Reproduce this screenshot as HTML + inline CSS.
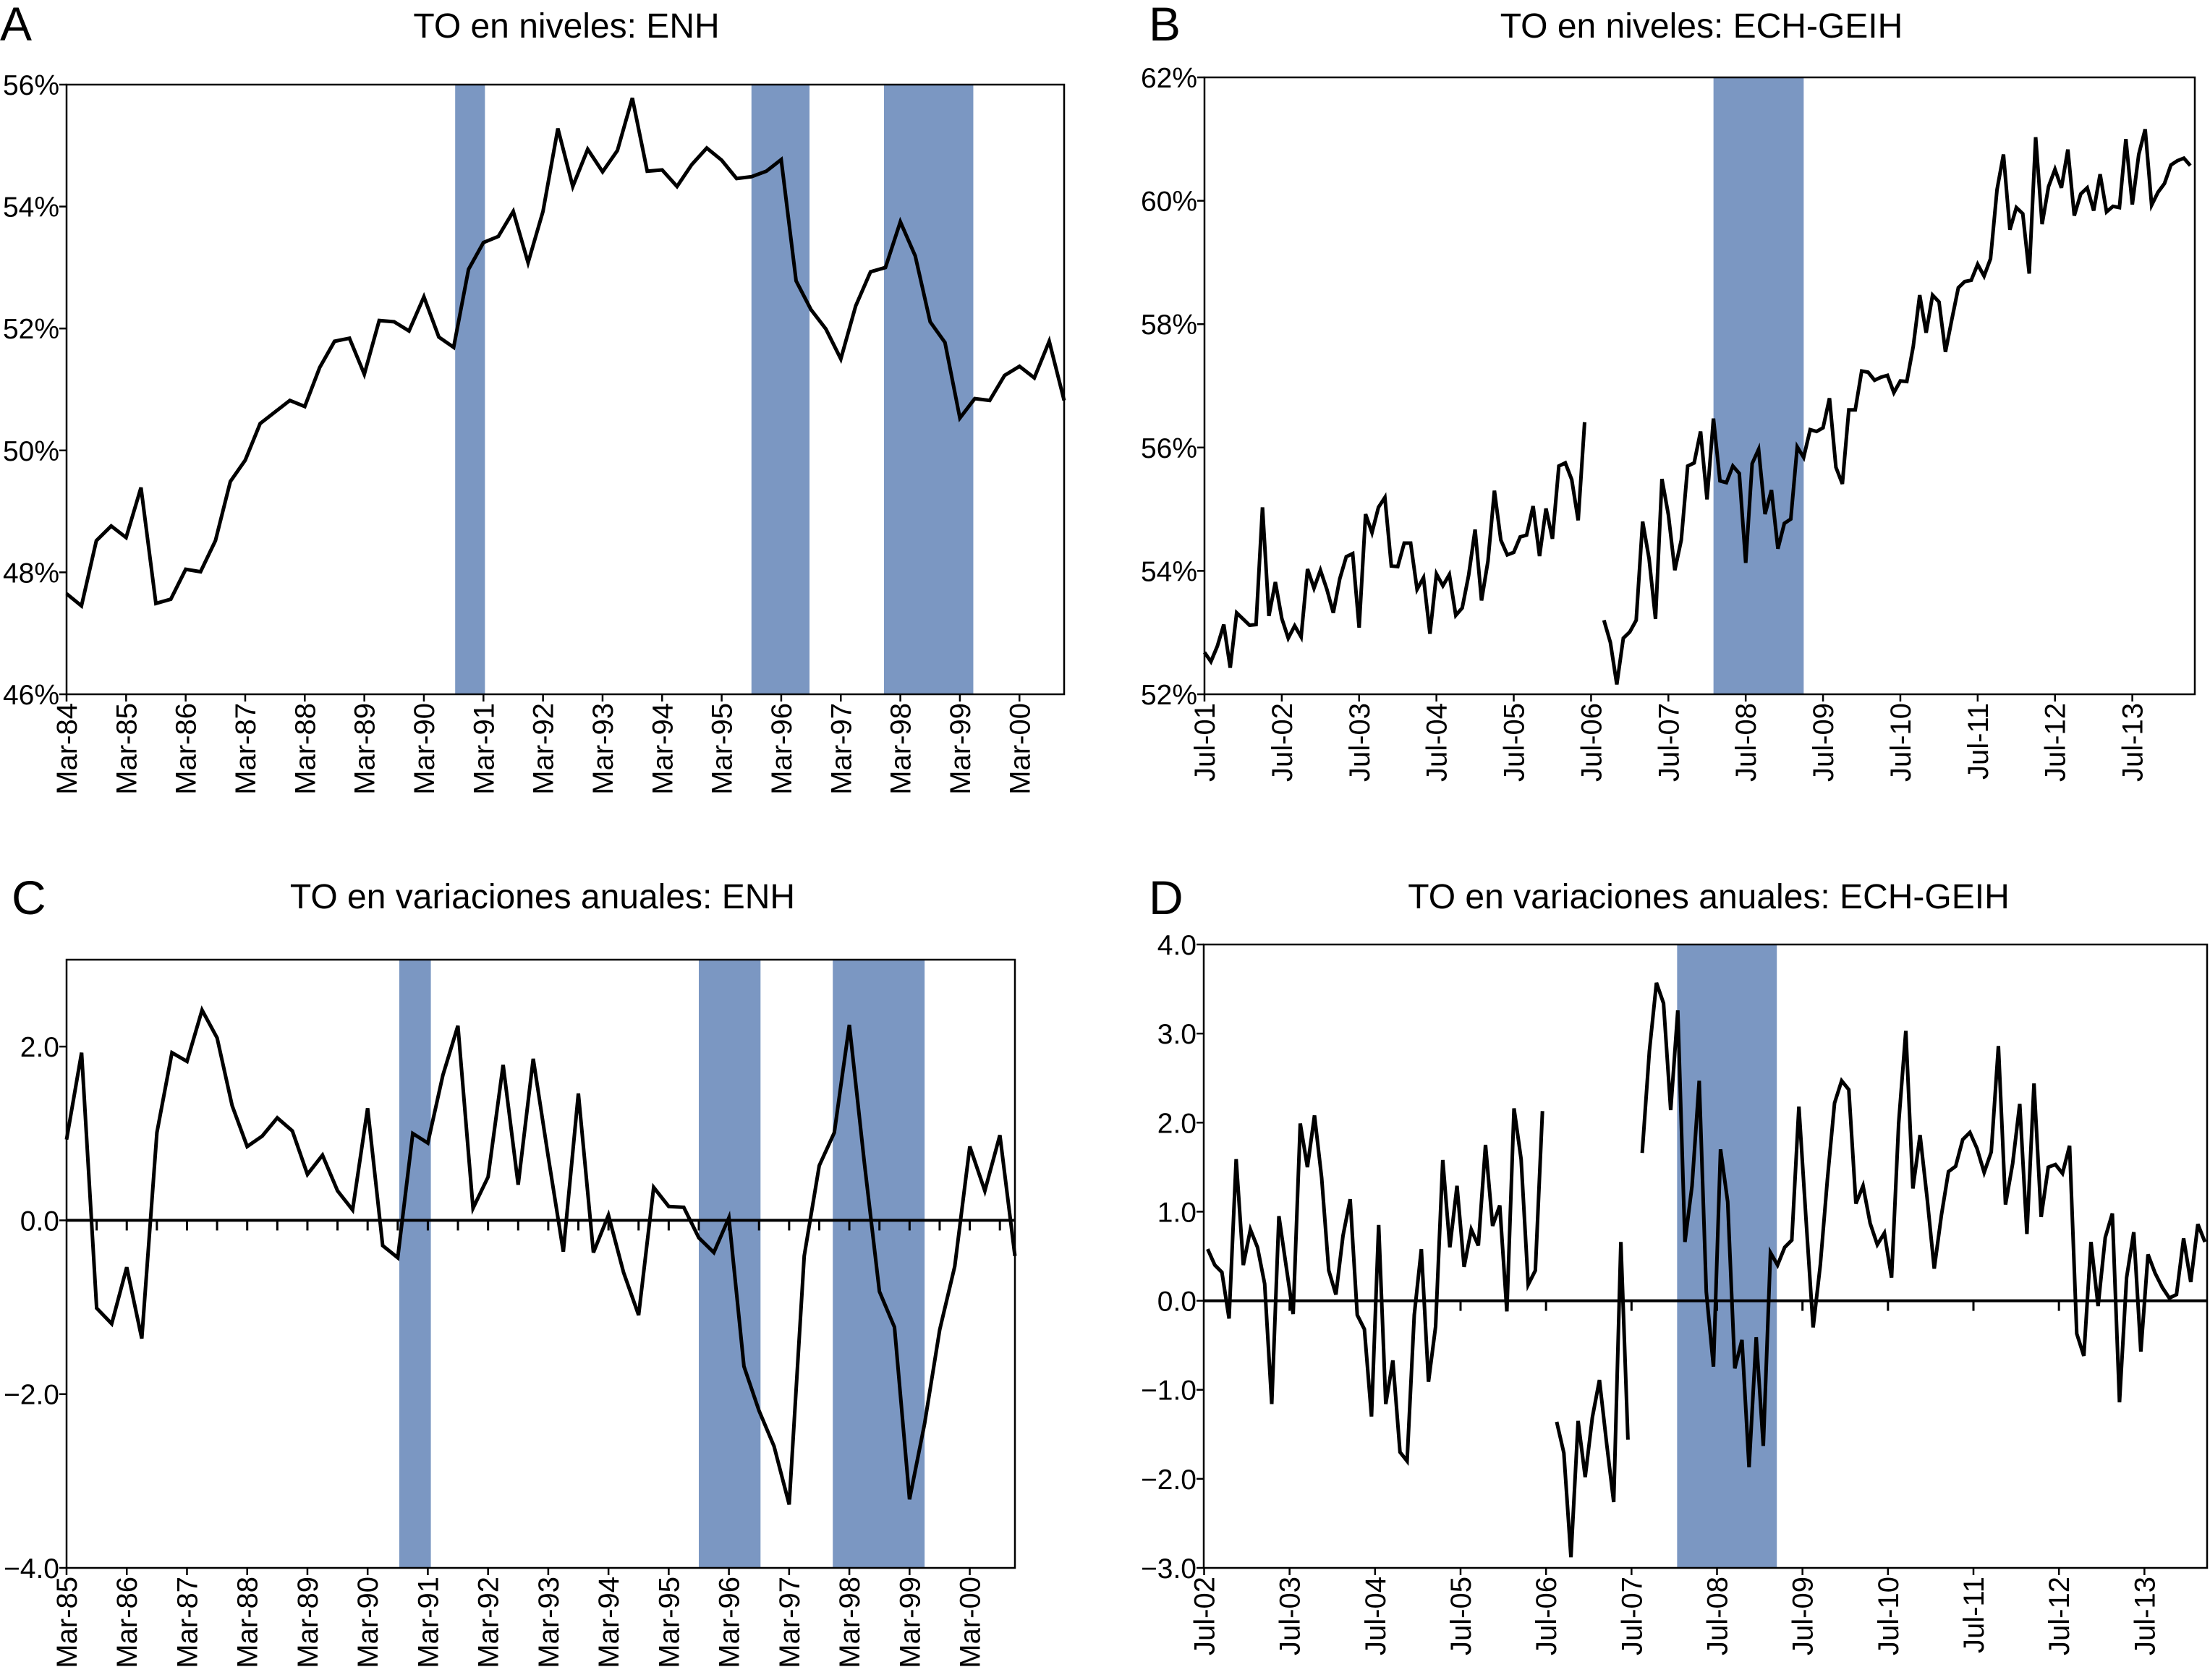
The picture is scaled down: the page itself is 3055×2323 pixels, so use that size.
<!DOCTYPE html>
<html><head><meta charset="utf-8"><style>
html,body{margin:0;padding:0;background:#fff;}
svg{display:block;font-family:"Liberation Sans",Arial,sans-serif;}
</style></head><body>
<svg id="chart" width="3055" height="2323" viewBox="0 0 3055 2323" xmlns="http://www.w3.org/2000/svg"></svg>
<script>
// Panel A: quarterly, Mar-84 .. Dec-00 (%)
const aValues=[47.65,47.45,48.52,48.76,48.57,49.39,47.49,47.56,48.05,48.01,48.52,49.49,49.84,50.44,50.63,50.82,50.72,51.36,51.79,51.84,51.25,52.13,52.11,51.96,52.52,51.86,51.69,52.97,53.41,53.51,53.92,53.08,53.92,55.28,54.33,54.94,54.57,54.92,55.78,54.58,54.60,54.33,54.69,54.96,54.76,54.46,54.49,54.58,54.77,52.78,52.31,51.99,51.50,52.37,52.93,53.00,53.75,53.19,52.11,51.77,50.53,50.85,50.82,51.23,51.38,51.19,51.79,50.82];
const aTicks=[46,48,50,52,54,56];
const aLabels=["Mar-84","Mar-85","Mar-86","Mar-87","Mar-88","Mar-89","Mar-90","Mar-91","Mar-92","Mar-93","Mar-94","Mar-95","Mar-96","Mar-97","Mar-98","Mar-99","Mar-00"];
const aShadeStart=[26.1,46.0,54.9];
const aShadeEnd=[28.1,49.9,60.9];
// Panel B: monthly from Jul-01 (%), null = gap
const bValues=[52.68,52.53,52.78,53.13,52.43,53.32,53.22,53.12,53.13,55.03,53.27,53.82,53.23,52.91,53.11,52.93,54.03,53.72,54.01,53.70,53.32,53.87,54.23,54.28,53.08,54.92,54.62,55.03,55.19,54.08,54.07,54.45,54.45,53.70,53.89,52.98,53.95,53.76,53.94,53.28,53.40,53.93,54.67,53.52,54.16,55.30,54.50,54.26,54.30,54.55,54.58,55.05,54.24,55.01,54.52,55.70,55.75,55.48,54.82,56.41,null,null,
53.20,52.84,52.16,52.91,53.01,53.20,54.80,54.20,53.22,55.49,54.91,54.01,54.50,55.70,55.75,56.26,55.16,56.47,55.46,55.43,55.70,55.58,54.13,55.74,55.97,54.92,55.31,54.36,54.77,54.84,56.01,55.84,56.29,56.26,56.32,56.80,55.68,55.41,56.61,56.61,57.24,57.22,57.09,57.14,57.17,56.89,57.08,57.07,57.64,58.47,57.86,58.47,58.36,57.55,58.08,58.59,58.69,58.71,58.97,58.78,59.06,60.18,60.75,59.53,59.89,59.79,58.82,61.03,59.62,60.23,60.51,60.21,60.83,59.76,60.11,60.21,59.84,60.43,59.82,59.91,59.89,61.00,59.94,60.75,61.16,59.93,60.14,60.28,60.58,60.65,60.69,60.57];
const bTicks=[52,54,56,58,60,62];
const bLabels=["Jul-01","Jul-02","Jul-03","Jul-04","Jul-05","Jul-06","Jul-07","Jul-08","Jul-09","Jul-10","Jul-11","Jul-12","Jul-13"];
const bShadeStart=[79];
const bShadeEnd=[93];
// Panel C: quarterly from Mar-85
const cValues=[0.93,1.93,-1.01,-1.19,-0.54,-1.36,1.01,1.93,1.83,2.42,2.10,1.32,0.85,0.97,1.18,1.03,0.53,0.75,0.34,0.12,1.29,-0.29,-0.43,1.00,0.89,1.67,2.24,0.14,0.50,1.79,0.41,1.86,0.73,-0.36,1.46,-0.37,0.06,-0.60,-1.09,0.38,0.16,0.15,-0.20,-0.37,0.03,-1.68,-2.19,-2.60,-3.27,-0.41,0.63,1.01,2.25,0.66,-0.82,-1.23,-3.21,-2.34,-1.26,-0.53,0.85,0.34,0.98,-0.41];
const cTicks=[2,0,-2,-4];
const cTickText=["2.0","0.0","\u22122.0","\u22124.0"];
const cLabels=["Mar-85","Mar-86","Mar-87","Mar-88","Mar-89","Mar-90","Mar-91","Mar-92","Mar-93","Mar-94","Mar-95","Mar-96","Mar-97","Mar-98","Mar-99","Mar-00"];
const cShadeStart=[22.1,42.0,50.9];
const cShadeEnd=[24.2,46.1,57.0];
// Panel D: monthly from Jul-02
const dValues=[0.58,0.40,0.32,-0.20,1.59,0.40,0.80,0.60,0.19,-1.16,0.95,0.40,-0.15,1.99,1.50,2.08,1.38,0.34,0.07,0.73,1.14,-0.16,-0.32,-1.30,0.85,-1.16,-0.67,-1.70,-1.80,-0.16,0.58,-0.91,-0.29,1.58,0.60,1.29,0.38,0.80,0.62,1.75,0.84,1.07,-0.12,2.16,1.59,0.18,0.34,2.13,null,
-1.36,-1.71,-2.88,-1.35,-1.98,-1.31,-0.89,-1.60,-2.26,0.66,-1.56,null,
1.66,2.80,3.57,3.34,2.14,3.26,0.66,1.29,2.47,0.10,-0.74,1.70,1.11,-0.76,-0.44,-1.87,-0.41,-1.63,0.54,0.40,0.60,0.68,2.18,0.91,-0.30,0.40,1.36,2.22,2.47,2.37,1.09,1.29,0.87,0.63,0.76,0.26,1.99,3.03,1.26,1.86,1.15,0.36,0.96,1.45,1.51,1.81,1.89,1.71,1.44,1.67,2.86,1.08,1.54,2.21,0.75,2.44,0.94,1.50,1.53,1.43,1.74,-0.37,-0.62,0.66,-0.06,0.71,0.98,-1.14,0.26,0.77,-0.57,0.52,0.31,0.15,0.03,0.07,0.70,0.21,0.86,0.66];
const dTicks=[4,3,2,1,0,-1,-2,-3];
const dTickText=["4.0","3.0","2.0","1.0","0.0","\u22121.0","\u22122.0","\u22123.0"];
const dLabels=["Jul-02","Jul-03","Jul-04","Jul-05","Jul-06","Jul-07","Jul-08","Jul-09","Jul-10","Jul-11","Jul-12","Jul-13"];
const dShadeStart=[65.9];
const dShadeEnd=[79.9];

const svg=document.getElementById('chart');
const NS='http://www.w3.org/2000/svg';
function el(tag,attrs,parent){const e=document.createElementNS(NS,tag);for(const k in attrs)e.setAttribute(k,attrs[k]);(parent||svg).appendChild(e);return e;}
const SHADE='#7b97c2';

function panel(cfg){
  const g=el('g',{});
  
  
  const xs=v=>cfg.L+(v-cfg.x0)/(cfg.x1-cfg.x0)*(cfg.R-cfg.L);
  const ys=v=>cfg.B-(v-cfg.y0)/(cfg.y1-cfg.y0)*(cfg.B-cfg.T);
  cfg.ss.forEach((s,i)=>{
    const r=el('rect',{x:xs(s),y:cfg.T,width:xs(cfg.se[i])-xs(s),height:cfg.B-cfg.T,fill:SHADE},g);
    
    
  });
  if(cfg.zero){
    const z=el('line',{x1:cfg.L,x2:cfg.R,y1:ys(0),y2:ys(0),stroke:'#000','stroke-width':4},g);
    
    
    cfg.zt.forEach(t=>{el('line',{x1:xs(t),x2:xs(t),y1:ys(0),y2:ys(0)+14,stroke:'#000','stroke-width':3},g);});
  }
  let d='',pen=false;
  cfg.vals.forEach((v,i)=>{
    if(v===null){pen=false;return;}
    d+=(pen?'L':'M')+xs(cfg.xi(i)).toFixed(1)+' '+ys(v).toFixed(1);pen=true;
  });
  const p=el('path',{d:d,fill:'none',stroke:'#000','stroke-width':5,'stroke-linejoin':'miter'},g);
  
  
  const f=el('rect',{x:cfg.L,y:cfg.T,width:cfg.R-cfg.L,height:cfg.B-cfg.T,fill:'none',stroke:'#000','stroke-width':2.5},g);
  
  
  cfg.yt.forEach((t,i)=>{
    const y=ys(t);
    el('line',{x1:cfg.L-10,x2:cfg.L,y1:y,y2:y,stroke:'#000','stroke-width':2.5},g);
    const tx=el('text',{x:cfg.L-10,y:y+14,'text-anchor':'end','font-size':39,fill:'#000'},g);
    tx.textContent=cfg.ytt[i];
    
    
  });
  cfg.xl.forEach((lab,i)=>{
    const x=xs(cfg.xlp(i));
    el('line',{x1:x,x2:x,y1:cfg.B,y2:cfg.B+10,stroke:'#000','stroke-width':2.5},g);
    const tx=el('text',{x:0,y:0,'text-anchor':'end','font-size':40,fill:'#000',transform:'translate('+(x+14)+','+(cfg.B+12)+') rotate(-90)'},g);
    tx.textContent=lab;
    
    
  });
  const t=el('text',{x:cfg.tx,y:cfg.ty,'text-anchor':'middle','font-size':48,fill:'#000'},g);
  t.textContent=cfg.title;
  
  
  const l=el('text',{x:cfg.lx,y:cfg.ly,'font-size':66,fill:'#000'},g);
  l.textContent=cfg.letter;
  
  
}
const pct=a=>a.map(v=>v+'%');
panel({name:'panel-a',L:92,R:1471,T:117,B:960,x0:0,x1:67,y0:46,y1:56,vals:aValues,xi:i=>i,
  yt:aTicks,ytt:pct(aTicks),xl:aLabels,xlp:i=>i*4,ss:aShadeStart,se:aShadeEnd,
  title:'TO en niveles: ENH',tx:783,ty:52,letter:'A',lx:0,ly:56});
panel({name:'panel-b',L:1665,R:3034,T:107,B:960,x0:0,x1:153.7,y0:52,y1:62,vals:bValues,xi:i=>i,
  yt:bTicks,ytt:pct(bTicks),xl:bLabels,xlp:i=>i*12,ss:bShadeStart,se:bShadeEnd,
  title:'TO en niveles: ECH-GEIH',tx:2352,ty:52,letter:'B',lx:1588,ly:56});
panel({name:'panel-c',L:92,R:1403,T:1327,B:2168,x0:0,x1:cValues.length-1,y0:-4,y1:3,vals:cValues,xi:i=>i,
  yt:cTicks,ytt:cTickText,xl:cLabels,xlp:i=>i*4,ss:cShadeStart,se:cShadeEnd,zero:true,
  zt:Array.from({length:31},(_,k)=>(k+1)*2),
  title:'TO en variaciones anuales: ENH',tx:750,ty:1256,letter:'C',lx:16,ly:1264});
panel({name:'panel-d',L:1664,R:3051,T:1306,B:2168,x0:-0.55,x1:140.3,y0:-3,y1:4,vals:dValues,xi:i=>i,
  yt:dTicks,ytt:dTickText,xl:dLabels,xlp:i=>-0.5+i*12,ss:dShadeStart,se:dShadeEnd,zero:true,
  zt:Array.from({length:11},(_,k)=>11.5+k*12),
  title:'TO en variaciones anuales: ECH-GEIH',tx:2362,ty:1256,letter:'D',lx:1588,ly:1264});
</script>
</body></html>
